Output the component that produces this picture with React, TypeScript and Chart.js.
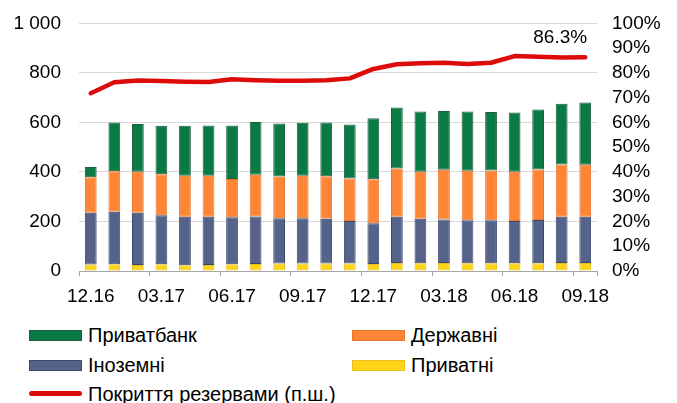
import React, { useEffect, useRef } from "react";
import { Chart, registerables } from "chart.js";

Chart.register(...registerables);

const categories = [
  "12.16", "01.17", "02.17", "03.17", "04.17", "05.17", "06.17", "07.17", "08.17", "09.17", "10.17",
  "11.17", "12.17", "01.18", "02.18", "03.18", "04.18", "05.18", "06.18", "07.18", "08.18", "09.18",
];
const privatni = [26, 27, 24, 27, 23, 24, 27, 28, 30, 30, 30, 30, 28, 32, 31, 32, 31, 31, 31, 31, 32, 32];
const inozemni = [209, 212, 211, 198, 196, 195, 190, 192, 183, 183, 181, 172, 165, 187, 180, 176, 174, 174, 171, 175, 187, 187];
const derzhavni = [144, 164, 166, 166, 166, 166, 155, 169, 169, 172, 172, 172, 178, 195, 190, 201, 200, 201, 199, 204, 211, 210];
const privatbank = [41, 197, 193, 196, 202, 203, 216, 213, 214, 214, 217, 218, 246, 246, 243, 237, 239, 236, 239, 242, 245, 252];
const coverage = [71.8, 76.2, 76.9, 76.7, 76.4, 76.3, 77.4, 77.0, 76.8, 76.8, 77.0, 77.8, 81.6, 83.5, 83.9, 84.1, 83.6, 84.1, 86.8, 86.5, 86.2, 86.3];
const lastLabel = "86.3%";

const FONT = "'Liberation Sans', Arial, sans-serif";

const COLORS = {
  green: "#0A7A45", greenB: "#1F5E3C",
  orange: "#FD8535", orangeB: "#E9782E",
  blue: "#55628A", blueB: "#3B4870",
  yellow: "#FFD318", yellowB: "#E8C020",
  red: "#DE0B0B",
};

const labelPlugin = {
  id: "lastLabel",
  afterDatasetsDraw(chart: any) {
    const meta = chart.getDatasetMeta(4);
    const pt = meta.data[meta.data.length - 1];
    if (!pt) return;
    const ctx = chart.ctx;
    ctx.save();
    ctx.font = `19px ${FONT}`;
    ctx.fillStyle = "#000";
    ctx.textAlign = "center";
    ctx.textBaseline = "middle";
    ctx.fillText(lastLabel, pt.x - 25, pt.y - 20);
    ctx.restore();
  },
};

const CANVAS_H = 316;
const SHIFT = 6;

export default function App() {
  const ref = useRef<HTMLCanvasElement | null>(null);
  useEffect(() => {
    if (!ref.current) return;
    Chart.defaults.font.family = FONT;
    const chart = new Chart(ref.current, {
      type: "bar",
      data: {
        labels: categories,
        datasets: [
          { label: "Приватні", data: privatni, backgroundColor: COLORS.yellow, borderColor: COLORS.yellowB, borderWidth: 1, borderSkipped: false, yAxisID: "y", order: 1, barPercentage: 0.5, categoryPercentage: 1 },
          { label: "Іноземні", data: inozemni, backgroundColor: COLORS.blue, borderColor: COLORS.blueB, borderWidth: 1, borderSkipped: false, yAxisID: "y", order: 1, barPercentage: 0.5, categoryPercentage: 1 },
          { label: "Державні", data: derzhavni, backgroundColor: COLORS.orange, borderColor: COLORS.orangeB, borderWidth: 1, borderSkipped: false, yAxisID: "y", order: 1, barPercentage: 0.5, categoryPercentage: 1 },
          { label: "Приватбанк", data: privatbank, backgroundColor: COLORS.green, borderColor: COLORS.greenB, borderWidth: 1, borderSkipped: false, yAxisID: "y", order: 1, barPercentage: 0.5, categoryPercentage: 1 },
          { type: "line", label: "Покриття резервами (п.ш.)", data: coverage, borderColor: COLORS.red, borderWidth: 4.5, pointRadius: 0, tension: 0, yAxisID: "y1", order: 0, borderCapStyle: "round", borderJoinStyle: "round" } as any,
        ],
      },
      options: {
        responsive: false,
        animation: false,
        devicePixelRatio: 1,
        layout: { padding: { top: 13, left: 0, right: 0, bottom: 0 } },
        plugins: { legend: { display: false }, tooltip: { enabled: false } },
        scales: {
          x: {
            stacked: true,
            offset: true,
            grid: {
              offset: true,
              drawOnChartArea: false,
              drawTicks: true,
              tickLength: 5,
              color: (c: any) => (c.index === undefined || c.index % 3 === 0 ? "#A6A6A6" : "rgba(0,0,0,0)"),
            },
            border: { display: true, color: "#A6A6A6", width: 1 },
            ticks: {
              autoSkip: false,
              maxRotation: 0,
              minRotation: 0,
              padding: 9,
              color: "#000",
              font: { size: 19 },
              callback: (_v: any, i: number) => (i % 3 === 0 ? categories[i] : ""),
            },
            afterFit: (s: any) => { s.height = 39; },
          },
          y: {
            stacked: true,
            position: "left",
            min: 0,
            max: 1000,
            border: { display: false },
            grid: {
              drawTicks: false,
              color: (c: any) => (c.tick && c.tick.value === 0 ? "rgba(0,0,0,0)" : "#D9D9D9"),
            },
            ticks: {
              stepSize: 200,
              autoSkip: false,
              padding: 18,
              color: "#000",
              font: { size: 19 },
              callback: (v: any) => (Number(v) >= 1000 ? "1 000" : String(v)),
            },
            afterFit: (s: any) => { s.width = 79; },
          },
          y1: {
            position: "right",
            min: 0,
            max: 100,
            border: { display: false },
            grid: { drawOnChartArea: false, drawTicks: false },
            ticks: {
              stepSize: 10,
              autoSkip: false,
              padding: 15,
              color: "#000",
              font: { size: 19 },
              callback: (v: any) => `${v}%`,
            },
            afterFit: (s: any) => { s.width = 80; },
          },
        },
      },
      plugins: [labelPlugin],
    });
    return () => chart.destroy();
  }, []);

  const text: React.CSSProperties = { fontFamily: FONT, fontSize: 20, color: "#000", lineHeight: "24px", whiteSpace: "nowrap" };
  const item = (left: number, cy: number, swatch: React.ReactNode, label: string) => (
    <div style={{ position: "absolute", left, top: cy - 12, height: 24, display: "flex", alignItems: "center" }}>
      {swatch}
      <span style={{ ...text, marginLeft: 6 }}>{label}</span>
    </div>
  );
  const rect = (bg: string, bd: string) => (
    <div style={{ width: 51, height: 9, background: bg, border: `1px solid ${bd}` }} />
  );
  const line = <div style={{ width: 53, height: 5, background: COLORS.red, borderRadius: 3 }} />;

  return (
    <div style={{ position: "absolute", left: 0, top: 0, width: 677, height: 403, background: "#fff", overflow: "hidden" }}>
      <canvas ref={ref} width={677} height={CANVAS_H} style={{ position: "absolute", left: 0, top: -SHIFT, display: "block", width: 677, height: CANVAS_H }} />
      {item(29, 335, rect(COLORS.green, COLORS.greenB), "Приватбанк")}
      {item(352, 335, rect(COLORS.orange, COLORS.orangeB), "Державні")}
      {item(29, 365, rect(COLORS.blue, COLORS.blueB), "Іноземні")}
      {item(352, 365, rect(COLORS.yellow, COLORS.yellowB), "Приватні")}
      {item(29, 393.5, line, "Покриття резервами (п.ш.)")}
    </div>
  );
}
